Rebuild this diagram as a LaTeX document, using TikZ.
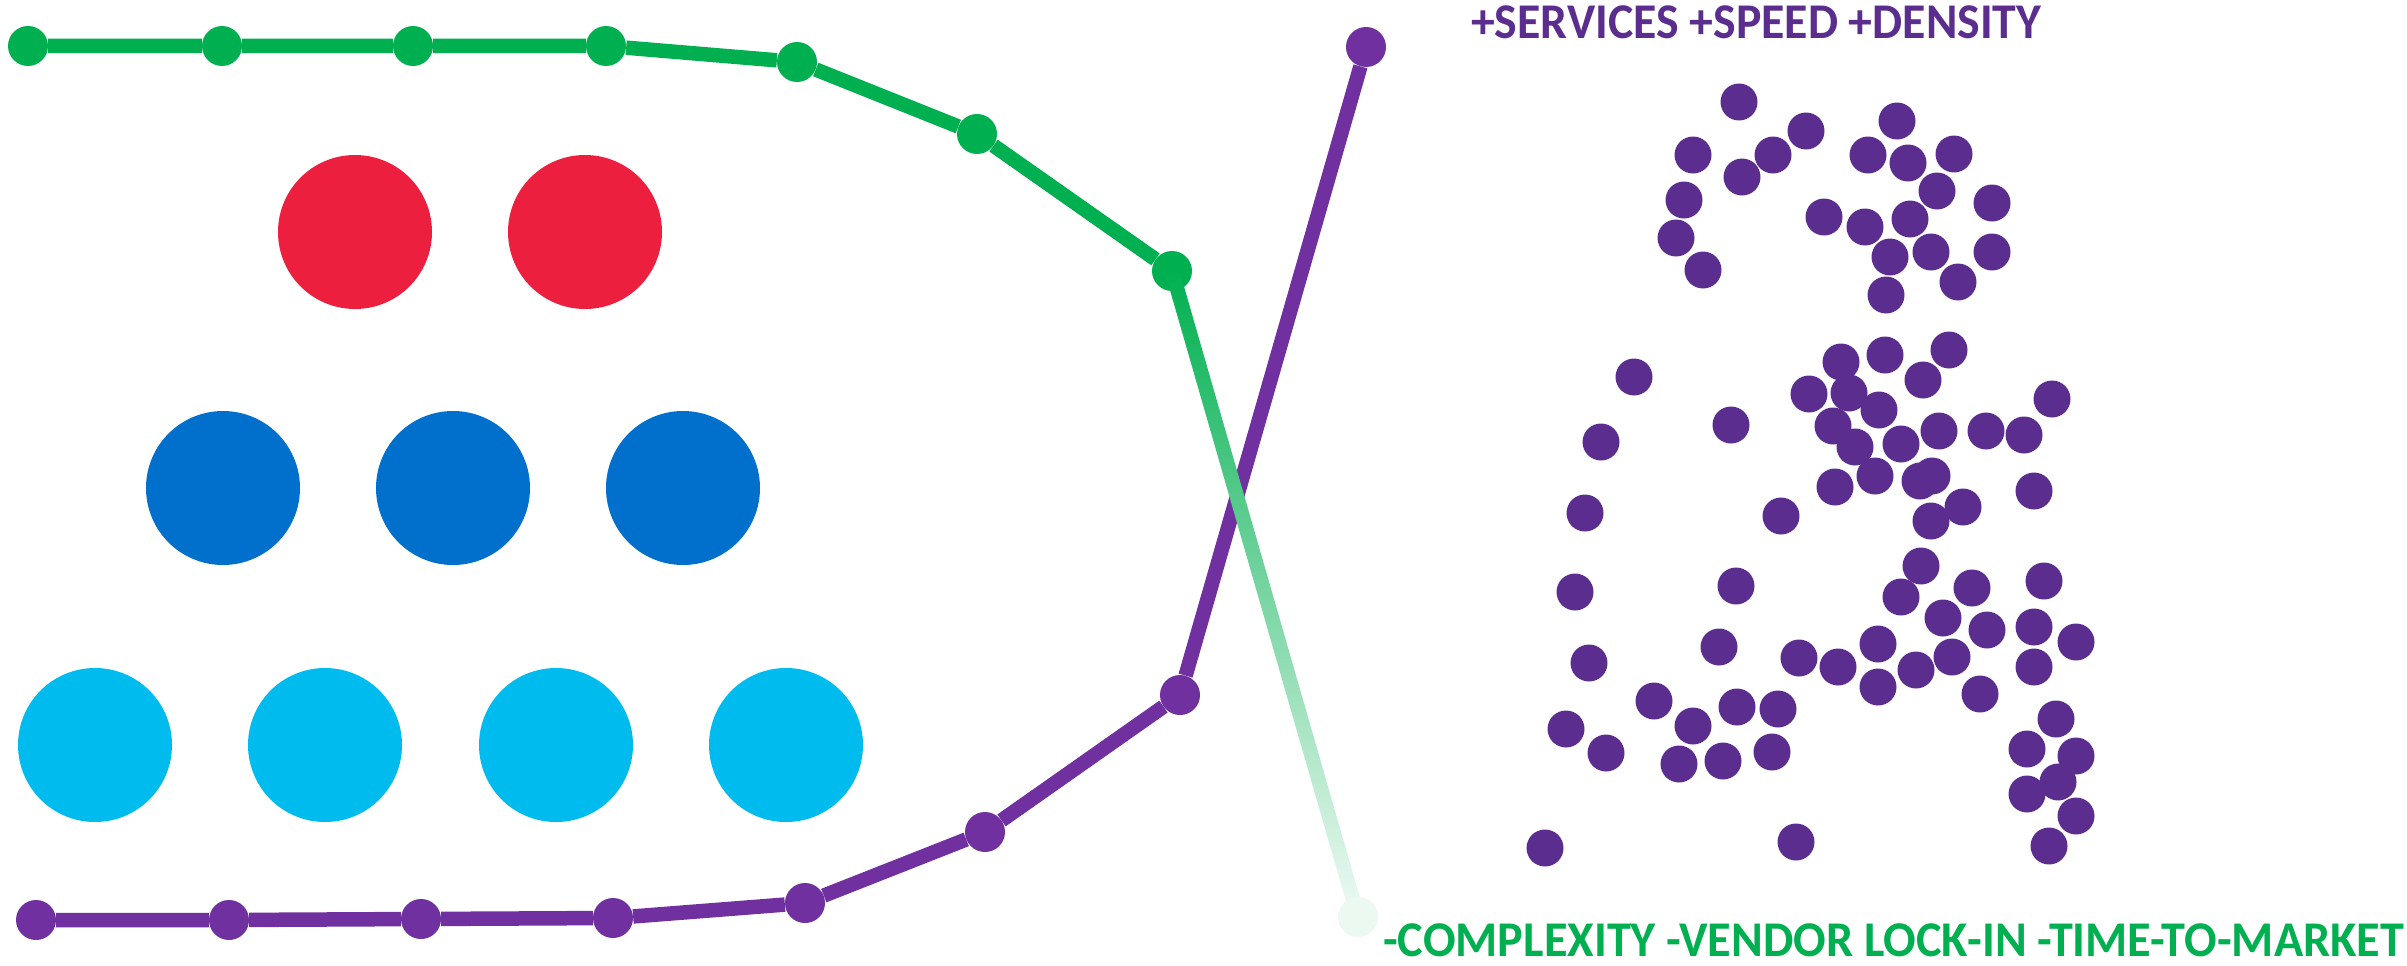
\documentclass[tikz,border=0pt]{standalone}
\usepackage{fontspec}
\usepackage{graphicx}
\setmainfont{Carlito}
\usetikzlibrary{calc}
\definecolor{cred}{HTML}{EC1F3E}
\definecolor{cblue}{HTML}{0070CC}
\definecolor{ccyan}{HTML}{00BCEE}
\definecolor{cgreen}{HTML}{00B050}
\definecolor{lpurple}{HTML}{7030A0}
\definecolor{dpurple}{HTML}{5B2D8E}
\begin{document}
\begin{tikzpicture}[x=1pt,y=-1pt,
  bigc/.style={circle,minimum size=154pt,inner sep=0pt},
  ldot/.style={circle,minimum size=40pt,inner sep=0pt},
  pdot/.style={circle,fill=dpurple,minimum size=37pt,inner sep=0pt},
  conn/.style={line width=14.5pt,line join=round},
  lbl/.style={inner sep=0pt,anchor=base west,font=\fontsize{50}{60}\selectfont\bfseries}]
\useasboundingbox (0,0) rectangle (2407,966);
% big circles
\node[bigc,fill=cred] (r1) at (355,232) {};
\node[bigc,fill=cred] (r2) at (585,232) {};
\node[bigc,fill=cblue] (b1) at (223,488) {};
\node[bigc,fill=cblue] (b2) at (453,488) {};
\node[bigc,fill=cblue] (b3) at (683,488) {};
\node[bigc,fill=ccyan] (c1) at (95,745) {};
\node[bigc,fill=ccyan] (c2) at (325,745) {};
\node[bigc,fill=ccyan] (c3) at (556,745) {};
\node[bigc,fill=ccyan] (c4) at (786,745) {};
% purple line
\foreach \i/\x/\y in {1/36/920,2/229/920,3/421/919,4/613/918,5/805/903,6/985/832,7/1180/695,8/1366/47}
  \node[ldot,fill=lpurple] (p\i) at (\x,\y) {};
\draw[conn,lpurple] (p1) -- (p2) -- (p3) -- (p4) -- (p5) -- (p6) -- (p7) -- (p8);
% green line
\foreach \i/\x/\y in {1/28/46,2/222/46,3/413/46,4/606/46,5/797/62,6/977/134,7/1172/271}
  \node[ldot,fill=cgreen] (g\i) at (\x,\y) {};
\draw[conn,cgreen] (g1) -- (g2) -- (g3) -- (g4) -- (g5) -- (g6) -- (g7);
\coordinate (g8c) at (1358,917);
\shade[top color=cgreen,middle color=cgreen!65,bottom color=cgreen!6]
  ($(g7.center)!7.25pt!90:(g8c)$) -- ($(g7.center)!7.25pt!-90:(g8c)$)
  -- ($(g8c)!7.25pt!90:(g7.center)$) -- ($(g8c)!7.25pt!-90:(g7.center)$) -- cycle;
\node[ldot,fill=cgreen!8] (g8) at (g8c) {};
% scattered dots
\foreach [count=\i] \x/\y in {1739/102,1806/131,1897/121,1693/155,1773/155,1868/155,1954/154,1742/177,1908/163,1684/200,1937/191,1992/203,1824/217,1865/227,1910/219,1676/238,1890/257,1931/252,1992/252,1703/270,1958/282,1886/295,
 1634/377,1841/362,1885/355,1949/350,1923/380,1809/394,1849/393,2052/399,1879/410,1731/425,1601/442,1833/426,1939/431,1986/431,2024/435,1855/447,1901/444,
 1835/487,1875/476,1920/481,1932/476,2034/491,
 1585/513,1781/516,1963/507,1931/521,1921/566,2044/581,1575/592,1736/586,1972/588,1901/597,1943/618,1987/630,2034/627,2076/642,1719/647,1589/663,1799/658,1838/667,1878/644,1916/670,1952/657,2034/667,1878/687,1980/694,1654/701,1737/707,1778/709,1566/729,1693/726,2056/719,1606/753,1679/764,1723/761,1772/752,2027/749,2076/756,2058/782,2027/794,2076/816,1545/848,1796/842,2049/846}
  \node[pdot] (d\i) at (\x,\y) {};
% texts
\node[lbl,text=dpurple] (tplus) at (1471,39) {\resizebox{570pt}{\height}{+SERVICES +SPEED +DENSITY}};
\node[lbl,text=cgreen] (tminus) at (1383,956) {\resizebox{1021pt}{\height}{-COMPLEXITY -VENDOR LOCK-IN -TIME-TO-MARKET}};
\end{tikzpicture}
\end{document}
